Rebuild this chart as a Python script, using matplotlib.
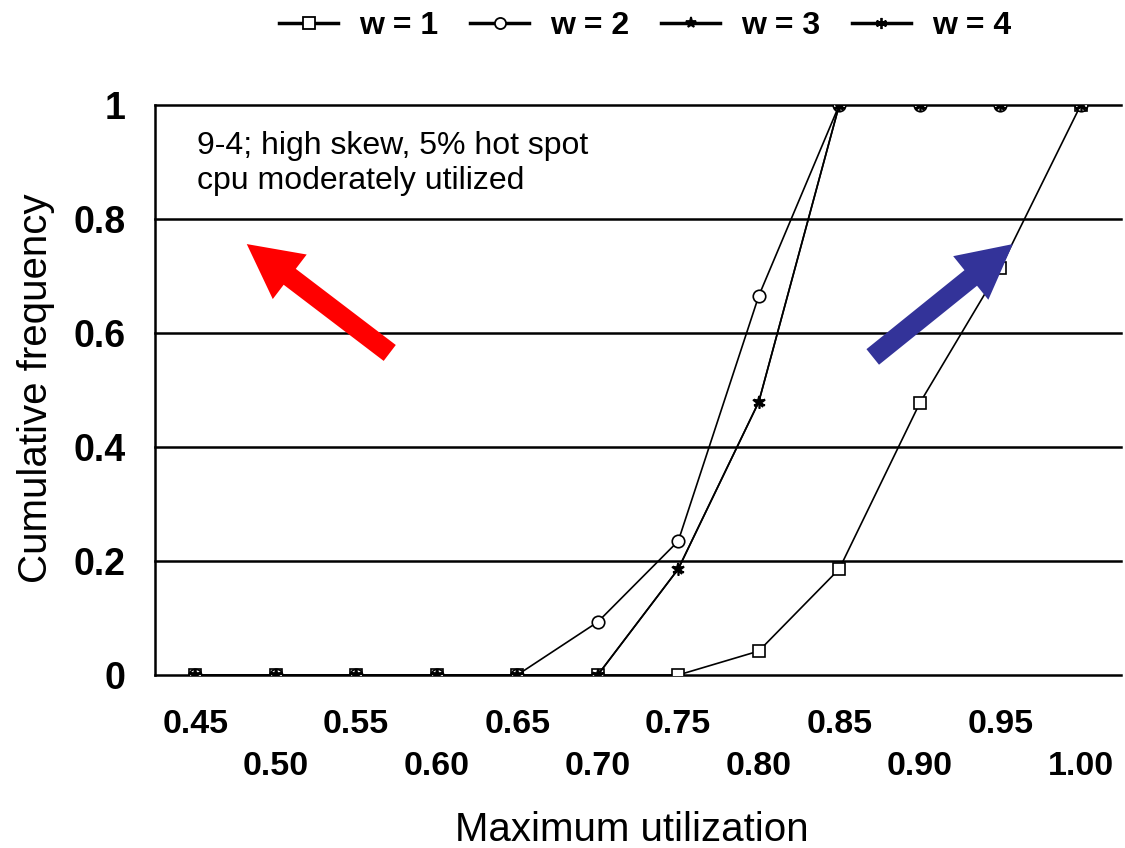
import matplotlib.pyplot as plt
import numpy as np
from matplotlib.lines import Line2D
from matplotlib.patches import FancyArrow
from matplotlib.transforms import IdentityTransform

plt.rcParams["font.family"] = ["Liberation Sans", "DejaVu Sans"]

# Data
utilization = ["0.45", "0.50", "0.55", "0.60", "0.65", "0.70",
               "0.75", "0.80", "0.85", "0.90", "0.95", "1.00"]
w1 = [0, 0, 0, 0, 0, 0, 0, 0.042, 0.186, 0.477, 0.714, 1.0]
w2 = [0, 0, 0, 0, 0, 0.093, 0.235, 0.665, 1.0, 1.0, 1.0, 1.0]
w3 = [0, 0, 0, 0, 0, 0, 0.186, 0.479, 1.0, 1.0, 1.0, 1.0]
w4 = [0, 0, 0, 0, 0, 0, 0.186, 0.479, 1.0, 1.0, 1.0, 1.0]
y_ticks = [0, 0.2, 0.4, 0.6, 0.8, 1]
y_tick_labels = ["0", "0.2", "0.4", "0.6", "0.8", "1"]

fig = plt.figure(figsize=(11.25, 8.48), dpi=100)
ax = fig.add_axes([155 / 1125, 173 / 848, 966 / 1125, 570 / 848])

x = np.arange(len(utilization))
series = [
    (w1, "s", "white", "w = 1"),
    (w2, "o", "white", "w = 2"),
    (w3, "*", "black", "w = 3"),
    (w4, (6, 2, 0), "black", "w = 4"),
]
handles = []
for vals, marker, face, label in series:
    ax.plot(x, vals, color="black", lw=1.2, marker=marker, markersize=9,
            markerfacecolor=face, markeredgecolor="black", markeredgewidth=1.2,
            zorder=3)
    handles.append(Line2D([], [], color="black", lw=2.5, marker=marker,
                          markersize=8, markerfacecolor=face,
                          markeredgecolor="black", markeredgewidth=1.3,
                          label=label))

ax.set_xlim(-0.5, len(utilization) - 0.5)
ax.set_ylim(0, 1)

# horizontal gridlines
for yt in y_ticks[1:]:
    ax.axhline(yt, color="black", lw=1.8, zorder=1, clip_on=False)

ax.spines["top"].set_visible(False)
ax.spines["right"].set_visible(False)
ax.spines["left"].set_linewidth(1.8)
ax.spines["bottom"].set_linewidth(1.8)

ax.set_yticks(y_ticks)
ax.set_yticklabels(y_tick_labels, fontsize=27, fontweight="bold")
ax.tick_params(axis="y", length=0, pad=21)

# staggered x tick labels
ax.set_xticks(x)
ax.set_xticklabels([])
ax.tick_params(axis="x", length=0)
for i, lab in enumerate(utilization):
    dy = -0.086 if i % 2 == 0 else -0.161
    ax.text(i, dy, lab, transform=ax.get_xaxis_transform(), ha="center",
            va="center", fontsize=24.5, fontweight="bold")

fig.text(632 / 1125, 1 - 830 / 848, "Maximum utilization", fontsize=29,
         ha="center", va="center")
fig.text(36 / 1125, 1 - 388 / 848, "Cumulative frequency", fontsize=29,
         ha="center", va="center", rotation=90)

ax.text(0.043, 0.955, "9-4; high skew, 5% hot spot\ncpu moderately utilized",
        transform=ax.transAxes, ha="left", va="top", fontsize=23,
        linespacing=1.25)


def draw_arrow(tail, tip, color):
    # tail/tip in axes fractions, arrow geometry in pixels
    x0, y0 = ax.transAxes.transform(tail)
    x1, y1 = ax.transAxes.transform(tip)
    fig.patches.append(FancyArrow(x0, y0, x1 - x0, y1 - y0, width=20,
                                  head_width=56, head_length=54,
                                  length_includes_head=True,
                                  transform=IdentityTransform(), color=color,
                                  lw=0, zorder=5, figure=fig))


draw_arrow((0.243, 0.565), (0.095, 0.756), "#ff0000")
draw_arrow((0.743, 0.558), (0.888, 0.756), "#333399")

fig.legend(handles=handles, loc="center", bbox_to_anchor=(645 / 1125, 1 - 26 / 848),
           ncol=4, frameon=False, prop={"size": 23, "weight": "bold"},
           handlelength=1.85, columnspacing=1.0, handletextpad=0.65)

fig.savefig("out.png", dpi=100)
